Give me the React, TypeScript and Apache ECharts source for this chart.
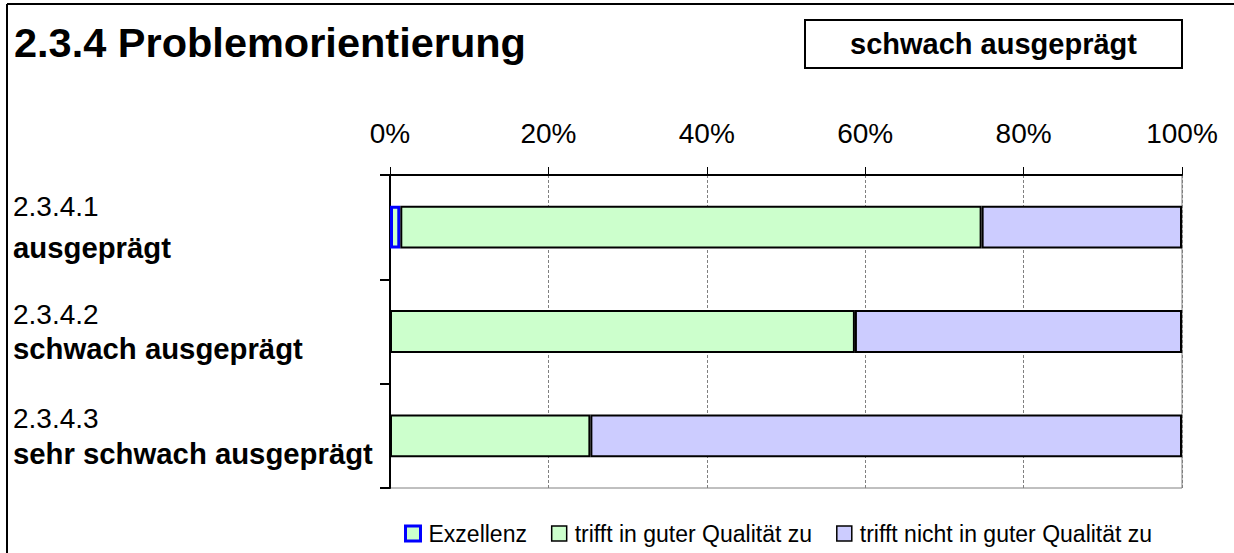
import React, { useEffect, useRef } from "react";
import * as echarts from "echarts";

const codes = ["2.3.4.1", "2.3.4.2", "2.3.4.3"];
const names = ["ausgeprägt", "schwach ausgeprägt", "sehr schwach ausgeprägt"];
const seriesNames = ["Exzellenz", "trifft in guter Qualität zu", "trifft nicht in guter Qualität zu"];
const exzellenz = [1.3, null, null];
const guteQualitaet = [73.4, 58.7, 25.3];
const nichtGuteQualitaet = [25.3, 41.3, 74.7];
const xTicks = [0, 20, 40, 60, 80, 100];
const title = "2.3.4 Problemorientierung";
const badge = "schwach ausgeprägt";

const FONT = "'Liberation Sans', Arial, sans-serif";

export default function App() {
  const ref = useRef<HTMLDivElement>(null);
  useEffect(() => {
    if (!ref.current) return;
    const chart = echarts.init(ref.current, undefined, { renderer: "svg" });
    const lineHeights = [41, 34, 35];
    const rich: any = {};
    lineHeights.forEach((lh, i) => {
      rich["c" + i] = { fontSize: 28, lineHeight: lh, color: "#000", fontFamily: FONT };
      rich["n" + i] = { fontSize: 29.3, lineHeight: lh, fontWeight: "bold", color: "#000", fontFamily: FONT };
    });
    chart.setOption({
      animation: false,
      backgroundColor: "#fff",
      textStyle: { fontFamily: FONT },
      grid: {
        left: 390,
        right: 52,
        top: 175,
        bottom: 65,
        show: true,
        borderColor: "#808080",
        borderWidth: 1,
        containLabel: false,
      },
      legend: {
        left: 399,
        top: 517,
        itemWidth: 15,
        itemHeight: 15,
        itemGap: 24,
        icon: "rect",
        textStyle: { fontSize: 23, color: "#000", fontFamily: FONT, padding: [0, 0, 0, 3] },
        data: [
          { name: seriesNames[0], itemStyle: { color: "#CCFFCC", borderColor: "#0000FF", borderWidth: 3 } },
          { name: seriesNames[1], itemStyle: { color: "#CCFFCC", borderColor: "#000", borderWidth: 1.5 } },
          { name: seriesNames[2], itemStyle: { color: "#CCCCFF", borderColor: "#000", borderWidth: 1.5 } },
        ],
      },
      xAxis: {
        type: "value",
        position: "top",
        min: xTicks[0],
        max: xTicks[xTicks.length - 1],
        interval: 20,
        axisLine: { show: true, lineStyle: { color: "#000", width: 2 } },
        axisTick: { show: true, length: 8, lineStyle: { color: "#000", width: 1 } },
        axisLabel: {
          formatter: "{value}%",
          fontSize: 28,
          color: "#000",
          margin: 28,
          fontFamily: FONT,
        },
        splitLine: { show: true, lineStyle: { color: "#808080", width: 1, type: [3, 2] } },
      },
      yAxis: {
        type: "category",
        inverse: true,
        data: codes,
        axisLine: { show: true, lineStyle: { color: "#000", width: 2 } },
        axisTick: { show: true, length: 10, lineStyle: { color: "#000", width: 2 } },
        axisLabel: {
          align: "left",
          margin: 377,
          formatter: (value: string, index: number) => `{c${index}|${value}}\n{n${index}|${names[index]}}`,
          rich,
        },
        splitLine: { show: false },
      },
      series: [
        {
          name: seriesNames[0],
          type: "bar",
          stack: "total",
          barWidth: "41%",
          data: exzellenz,
          itemStyle: { color: "#CCFFCC", borderColor: "#0000FF", borderWidth: 3 },
        },
        {
          name: seriesNames[1],
          type: "bar",
          stack: "total",
          barWidth: "41%",
          data: guteQualitaet,
          itemStyle: { color: "#CCFFCC", borderColor: "#000", borderWidth: 2 },
        },
        {
          name: seriesNames[2],
          type: "bar",
          stack: "total",
          barWidth: "41%",
          data: nichtGuteQualitaet,
          itemStyle: { color: "#CCCCFF", borderColor: "#000", borderWidth: 2 },
        },
      ],
      graphic: [
        { type: "line", shape: { x1: 7, y1: 4, x2: 1234, y2: 4 }, style: { stroke: "#000", lineWidth: 2 } },
        { type: "line", shape: { x1: 7, y1: 4, x2: 7, y2: 553 }, style: { stroke: "#000", lineWidth: 2 } },
        {
          type: "text",
          left: 14,
          top: 21,
          style: { text: title, fontSize: 41.5, fontWeight: "bold", fill: "#000", fontFamily: FONT },
        },
        {
          type: "rect",
          shape: { x: 805, y: 20, width: 377, height: 48 },
          style: { fill: "#fff", stroke: "#000", lineWidth: 2 },
        },
        {
          type: "text",
          x: 993.5,
          y: 44,
          style: {
            text: badge,
            fontSize: 29,
            fontWeight: "bold",
            fill: "#000",
            fontFamily: FONT,
            align: "center",
            verticalAlign: "middle",
          },
        },
      ],
    });
    return () => chart.dispose();
  }, []);
  return (
    <div
      ref={ref}
      style={{ position: "fixed", left: 0, top: 0, width: 1234, height: 553, background: "#fff" }}
    />
  );
}
